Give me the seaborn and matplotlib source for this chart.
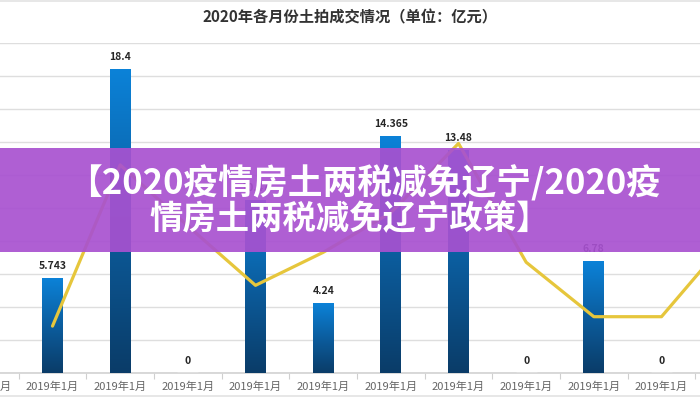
import numpy as np
import pandas as pd
import matplotlib
matplotlib.use("Agg")
import matplotlib.pyplot as plt
import seaborn as sns
from matplotlib.colors import LinearSegmentedColormap
from matplotlib.patches import Rectangle
from matplotlib.lines import Line2D

# data (first and last month are cut off by the crop)
months = ["2019年1月"] * 12
bar_vals = [np.nan, 5.743, 18.4, 0, 10.47, 4.24, 14.365, 13.48, 0, 6.78, 0, np.nan]
bar_text = ["", "5.743", "18.4", "0", "10.47", "4.24", "14.365", "13.48", "0", "6.78", "0", ""]
line_vals = [np.nan, 2.83, 12.6, 8.9, 5.3, 7.3, 9.7, 13.9, 6.7, 3.4, 3.4, 8.2]

title = "2020年各月份土拍成交情况（单位：亿元）"
banner1 = "【2020疫情房土两税减免辽宁/2020疫"
banner2 = "情房土两税减免辽宁政策】"

sns.set_theme(style="white")
plt.rcParams['font.family'] = ['Noto Sans CJK SC', 'DejaVu Sans']

df = pd.DataFrame({"pos": [str(i) for i in range(len(months))], "value": bar_vals})

fig = plt.figure(figsize=(7, 4), dpi=100)
# axes wider than the figure, the original picture is a crop
ax = fig.add_axes([-0.07, 0.068, 1.16, 0.825])

sns.barplot(data=df, x="pos", y="value", order=df["pos"], width=0.31,
            color="#0b74c4", ax=ax, zorder=3)
sns.lineplot(x=np.arange(len(months)), y=line_vals, color="#e6c63c",
             linewidth=2.3, ax=ax, zorder=4)

# gradient fill on the bars
cmap = LinearSegmentedColormap.from_list("bars", ["#0a3c68", "#0c5d9e", "#0b82d8"])
grad = np.linspace(0, 1, 256).reshape(-1, 1)
for p in ax.patches:
    h = p.get_height()
    if not np.isfinite(h) or h <= 0:
        continue
    x0 = p.get_x()
    im = ax.imshow(grad, cmap=cmap, origin="lower", aspect="auto",
                   extent=[x0, x0 + p.get_width(), 0, h], zorder=3)
    im.set_clip_path(p)
    p.set_facecolor("none")
    p.set_edgecolor("none")
ax.set_xlim(-0.5, len(months) - 0.5)
ax.set_ylim(0, 20)

for i, (v, t) in enumerate(zip(bar_vals, bar_text)):
    if np.isfinite(v):
        ax.annotate(t, (i, v), xytext=(0, 5), textcoords="offset points",
                    ha="center", va="bottom", fontsize=7.5, fontweight="bold",
                    color="#262626", zorder=5)

ax.set_yticks(np.arange(0, 21, 2))
ax.yaxis.grid(True, color="#dedede", linewidth=1)
ax.set_axisbelow(True)
ax.set_xticks(range(len(months)))
ax.set_xticklabels(months)
ax.set_xticks(np.arange(-0.5, len(months), 1), minor=True)
ax.tick_params(axis="x", which="major", length=0, pad=6, labelsize=8, labelcolor="#666666")
ax.tick_params(axis="x", which="minor", length=4, width=0.8, color="#cfcfcf", bottom=True)
ax.tick_params(axis="y", left=False, labelleft=False)
ax.set_xlabel("")
ax.set_ylabel("")
for s in ["top", "left", "right"]:
    ax.spines[s].set_visible(False)
ax.spines["bottom"].set_color("#d4d4d4")

fig.text(0.5, 1 - 17 / 400, title, ha="center", va="center", fontsize=11,
         fontweight="bold", color="#333333")

fig.add_artist(Line2D([0, 1], [0.997, 0.997], color="#e3e3e3", linewidth=1.2))
fig.add_artist(Line2D([0, 1], [0.011, 0.011], color="#e3e3e3", linewidth=1.2))

# purple banner over the chart
fig.add_artist(Rectangle((0, 0.371), 1, 0.26, transform=fig.transFigure,
                         facecolor="#a851d0", alpha=0.92, edgecolor="none", zorder=10))
fig.text(364 / 700, 1 - 183 / 400, banner1, ha="center", va="center", fontsize=25,
         fontweight="heavy", color="white", zorder=11)
fig.text(350 / 700, 1 - 220 / 400, banner2, ha="center", va="center", fontsize=24,
         fontweight="heavy", color="white", zorder=11)

fig.savefig("out.png", dpi=100)
